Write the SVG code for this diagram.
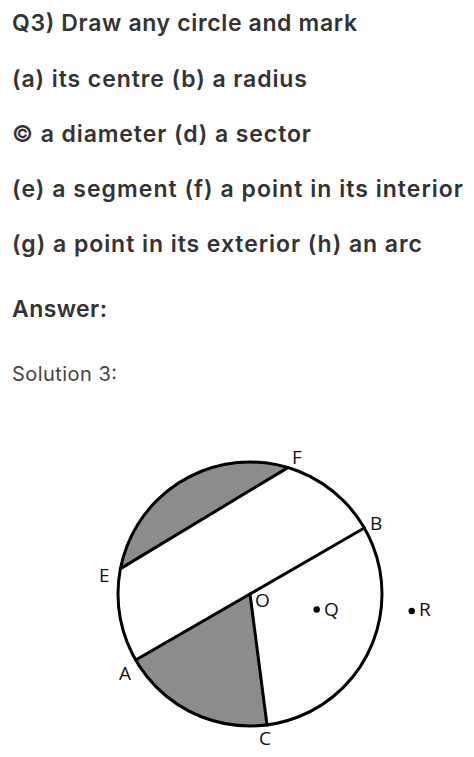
<svg xmlns="http://www.w3.org/2000/svg" width="474" height="757" viewBox="0 0 474 757">
<style>
.h{font-family:Inter,"Noto Sans",sans-serif;font-weight:600;font-size:23px;fill:#333}
.s{font-family:Inter,"Noto Sans",sans-serif;font-weight:400;font-size:20px;fill:#444}
.l{font-family:"Open Sans","DejaVu Sans",sans-serif;font-size:19px;fill:#111}
.ln{stroke:#000;stroke-width:3;fill:none;stroke-linecap:round}
.sh{fill:#8c8c8c;stroke:none}
</style>
<rect width="474" height="757" fill="#fff"/>
<g id="text">
<text class="h" x="12" y="31" textLength="345">Q3) Draw any circle and mark</text>
<text class="h" x="12" y="87" textLength="295">(a) its centre (b) a radius</text>
<text class="h" x="12" y="142" textLength="299">© a diameter (d) a sector</text>
<text class="h" x="12" y="197" textLength="451">(e) a segment (f) a point in its interior</text>
<text class="h" x="12" y="252" textLength="410">(g) a point in its exterior (h) an arc</text>
<text class="h" x="12" y="317" textLength="95">Answer:</text>
<text class="s" x="12" y="381" textLength="105">Solution 3:</text>
</g>
<g id="shading">
<path class="sh" d="M120.5,568.6 A132,132 0 0 1 287.9,467.6 Z"/>
<path class="sh" d="M250,594 L135.7,660 A132,132 0 0 0 267,724.9 Z"/>
</g>
<g id="circle">
<circle class="ln" cx="250" cy="594" r="132"/>
</g>
<g id="connectors">
<line class="ln" x1="120.5" y1="568.6" x2="287.9" y2="467.6"/>
<line class="ln" x1="135.7" y1="660" x2="364.3" y2="528"/>
<line class="ln" x1="250" y1="594" x2="267" y2="724.9"/>
</g>
<g id="points">
<circle cx="316.7" cy="609.5" r="3.2" fill="#000"/>
<circle cx="411.7" cy="611" r="3.2" fill="#000"/>
</g>
<g id="labels">
<text class="l" x="292" y="464">F</text>
<text class="l" x="370" y="530">B</text>
<text class="l" x="99" y="582">E</text>
<text class="l" x="255" y="607">O</text>
<text class="l" x="324" y="616">Q</text>
<text class="l" x="419" y="616">R</text>
<text class="l" x="119" y="680">A</text>
<text class="l" x="259" y="745">C</text>
</g>
</svg>
